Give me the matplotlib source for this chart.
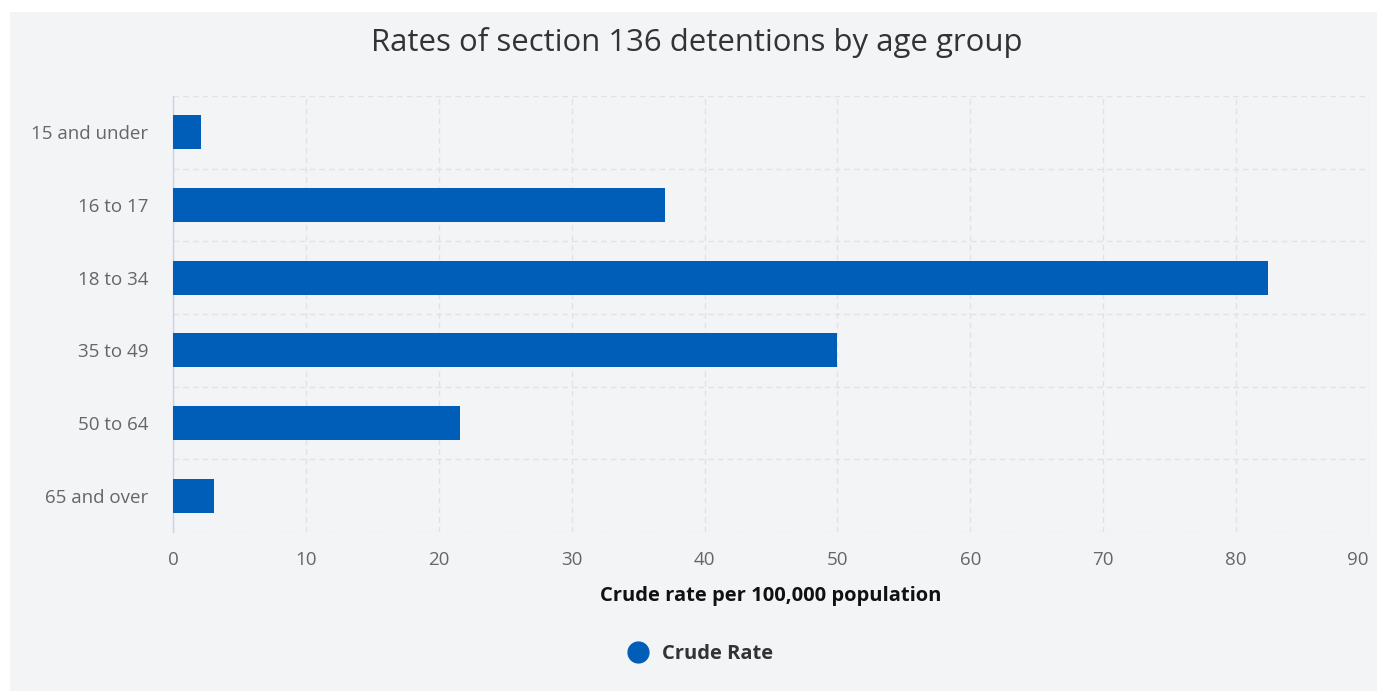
import matplotlib.pyplot as plt
from matplotlib.lines import Line2D
from matplotlib.patches import Rectangle

# crude rate of section 136 detentions per 100,000 population
age_groups = ['15 and under', '16 to 17', '18 to 34', '35 to 49', '50 to 64', '65 and over']
crude_rate = [2.1, 37.0, 82.4, 50.0, 21.6, 3.1]
x_ticks = [0, 10, 20, 30, 40, 50, 60, 70, 80, 90]

blue = '#005eb8'
panel = '#f3f4f6'
grid_col = '#dfe2e6'

plt.rcParams['font.family'] = ['Open Sans', 'DejaVu Sans']

fig = plt.figure(figsize=(13.77, 6.91), dpi=100)
fig.patch.set_facecolor('white')
fig.patches.append(Rectangle((10 / 1377, 0), 1, 1 - 12 / 691, transform=fig.transFigure,
                             facecolor=panel, edgecolor='none', zorder=-10))

ax = fig.add_axes([173 / 1377, 1 - 532 / 691, (1369 - 173) / 1377, (532 - 96) / 691])
ax.set_facecolor(panel)

pos = list(range(len(age_groups)))
ax.barh(pos, crude_rate, height=0.47, color=blue, zorder=3)

ax.set_xlim(0, 90)
ax.set_ylim(len(age_groups) - 0.5, -0.5)
ax.set_xticks(x_ticks)
ax.set_yticks(pos)
ax.set_yticklabels(age_groups)

# dashed grid: vertical at ticks, horizontal between categories
ax.set_yticks([p - 0.5 for p in pos] + [len(pos) - 0.5], minor=True)
ax.grid(axis='x', which='major', color=grid_col, linestyle=(0, (4, 3)), linewidth=1, zorder=0)
ax.grid(axis='y', which='minor', color=grid_col, linestyle=(0, (4, 3)), linewidth=1, zorder=0)
ax.grid(axis='y', which='major', visible=False)

for s in ['top', 'right', 'bottom']:
    ax.spines[s].set_visible(False)
ax.spines['left'].set_color('#c6d3ea')
ax.spines['left'].set_linewidth(1)

ax.tick_params(axis='both', which='both', length=0, labelsize=13.5, labelcolor='#666666')
ax.tick_params(axis='y', pad=18)
ax.tick_params(axis='x', pad=14)
# keep the last x label inside the plot edge
ax.get_xticklabels()[-1].set_horizontalalignment('right')

ax.set_xlabel('Crude rate per 100,000 population', fontsize=14.5, fontweight='bold',
              color='#111111', labelpad=12)

fig.text(0.506, 1 - 43 / 691, 'Rates of section 136 detentions by age group',
         ha='center', va='center', fontsize=22.4, color='#333333')

handle = Line2D([], [], marker='o', linestyle='', color=blue, markersize=15)
fig.legend(handles=[handle], labels=['Crude Rate'], loc='center',
           bbox_to_anchor=(0.505, 1 - 654 / 691), frameon=False, handletextpad=0.2,
           prop={'weight': 'bold', 'size': 14.5}, labelcolor='#333333')

fig.savefig('out.png', dpi=100, facecolor=fig.get_facecolor())
